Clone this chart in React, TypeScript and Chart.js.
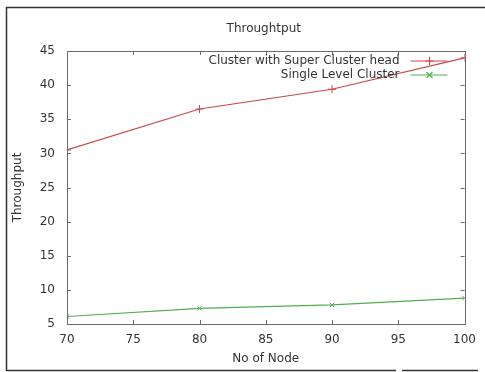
import React, { useEffect, useRef } from "react";
import { Chart, registerables } from "chart.js";

Chart.register(...registerables);

const chartTitle = "Throughtput";
const xTitle = "No of Node";
const yTitle = "Throughput";
const nodes = [70, 80, 90, 100];
const superClusterLabel = "Cluster with Super Cluster head";
const superCluster = [30.5, 36.5, 39.4, 44];
const singleLevelLabel = "Single Level Cluster";
const singleLevel = [6.1, 7.3, 7.8, 8.8];
const xMin = 70;
const xMax = 100;
const xStep = 5;
const yMin = 5;
const yMax = 45;
const yStep = 5;

const FONT = "'DejaVu Sans', Verdana, sans-serif";
const TEXT = "#333";
const RED = "rgb(204,72,72)";
const GREEN = "rgb(80,176,80)";
const AXIS = "#6a6a6a";

const decorPlugin = {
  id: "decor",
  beforeDraw(chart: any) {
    const ctx = chart.ctx;
    ctx.save();
    ctx.fillStyle = "#fff";
    ctx.fillRect(0, 0, chart.width, chart.height);
    ctx.restore();
  },
  afterDatasetsDraw(chart: any) {
    const ctx = chart.ctx;
    const { left, right, top, bottom } = chart.chartArea;
    const xs = chart.scales.x;
    const ys = chart.scales.y;
    ctx.save();
    // title centred over the plot area
    ctx.font = `12px ${FONT}`;
    ctx.fillStyle = TEXT;
    ctx.textAlign = "center";
    ctx.textBaseline = "middle";
    ctx.fillText(chartTitle, (left + right) / 2 - 2, top - 22);

    // plot border
    ctx.strokeStyle = AXIS;
    ctx.lineWidth = 1;
    ctx.strokeRect(Math.round(left) + 0.5, Math.round(top) + 0.5, Math.round(right - left), Math.round(bottom - top));
    // inner ticks (mirrored)
    const tl = 4;
    ctx.beginPath();
    xs.ticks.forEach((t: any) => {
      const px = Math.round(xs.getPixelForValue(t.value)) + 0.5;
      ctx.moveTo(px, bottom);
      ctx.lineTo(px, bottom - tl);
      ctx.moveTo(px, top);
      ctx.lineTo(px, top + tl);
    });
    ys.ticks.forEach((t: any) => {
      const py = Math.round(ys.getPixelForValue(t.value)) + 0.5;
      ctx.moveTo(left, py);
      ctx.lineTo(left + tl, py);
      ctx.moveTo(right, py);
      ctx.lineTo(right - tl, py);
    });
    ctx.stroke();

    // key
    ctx.font = `12px ${FONT}`;
    ctx.textAlign = "right";
    ctx.textBaseline = "middle";
    const items = [
      { label: superClusterLabel, color: RED, style: "cross", y: top + 10 },
      { label: singleLevelLabel, color: GREEN, style: "crossRot", y: top + 24 },
    ];
    items.forEach((it) => {
      ctx.fillStyle = TEXT;
      ctx.fillText(it.label, right - 65, it.y);
      ctx.strokeStyle = it.color;
      ctx.lineWidth = 1.2;
      ctx.beginPath();
      ctx.moveTo(right - 54, it.y);
      ctx.lineTo(right - 17, it.y);
      ctx.stroke();
      const cx = right - 35;
      const r = it.style === "cross" ? 4 : 3;
      ctx.beginPath();
      if (it.style === "cross") {
        ctx.moveTo(cx, it.y - r);
        ctx.lineTo(cx, it.y + r);
        ctx.moveTo(cx - r, it.y);
        ctx.lineTo(cx + r, it.y);
      } else {
        ctx.moveTo(cx - r, it.y - r);
        ctx.lineTo(cx + r, it.y + r);
        ctx.moveTo(cx - r, it.y + r);
        ctx.lineTo(cx + r, it.y - r);
      }
      ctx.stroke();
    });

    // outer screenshot frame
    ctx.strokeStyle = "#333";
    ctx.lineWidth = 1.5;
    ctx.beginPath();
    ctx.moveTo(6, 7.5);
    ctx.lineTo(chart.width, 7.5);
    ctx.moveTo(6.5, 7);
    ctx.lineTo(6.5, 371);
    ctx.moveTo(6, 370.5);
    ctx.lineTo(396, 370.5);
    ctx.moveTo(402, 370.5);
    ctx.lineTo(478, 370.5);
    ctx.stroke();
    ctx.restore();
  },
};

export default function App() {
  const ref = useRef<HTMLCanvasElement | null>(null);
  useEffect(() => {
    if (!ref.current) return;
    const chart = new Chart(ref.current, {
      type: "line",
      data: {
        datasets: [
          {
            label: superClusterLabel,
            data: nodes.map((x, i) => ({ x, y: superCluster[i] })),
            borderColor: RED,
            backgroundColor: RED,
            borderWidth: 1.2,
            pointStyle: "cross",
            pointRadius: 4,
            pointBorderWidth: 1,
            tension: 0,
            fill: false,
          },
          {
            label: singleLevelLabel,
            data: nodes.map((x, i) => ({ x, y: singleLevel[i] })),
            borderColor: GREEN,
            backgroundColor: GREEN,
            borderWidth: 1.2,
            pointStyle: "crossRot",
            pointRadius: 3,
            pointBorderWidth: 1,
            tension: 0,
            fill: false,
          },
        ],
      },
      options: {
        responsive: false,
        animation: false,
        layout: { padding: { left: 0, right: 20, top: 51, bottom: 0 } },
        plugins: {
          legend: { display: false },
          tooltip: { enabled: false },
          title: { display: false },
        },
        scales: {
          x: {
            type: "linear",
            min: xMin,
            max: xMax,
            grid: { display: false, drawTicks: false },
            border: { display: false },
            ticks: {
              stepSize: xStep,
              color: TEXT,
              font: { family: FONT, size: 12 },
              padding: 9,
              maxRotation: 0,
            },
            title: {
              display: true,
              text: xTitle,
              color: TEXT,
              font: { family: FONT, size: 12 },
              padding: { top: 0, bottom: 6 },
            },
            afterFit(s: any) {
              s.height = 48;
            },
          },
          y: {
            type: "linear",
            min: yMin,
            max: yMax,
            grid: { display: false, drawTicks: false },
            border: { display: false },
            ticks: {
              stepSize: yStep,
              color: TEXT,
              font: { family: FONT, size: 12 },
              padding: 12,
            },
            title: {
              display: true,
              text: yTitle,
              color: TEXT,
              font: { family: FONT, size: 12 },
              padding: { top: 11, bottom: 0 },
            },
            afterFit(s: any) {
              s.width = 67;
            },
          },
        },
      },
      plugins: [decorPlugin],
    } as any);
    return () => chart.destroy();
  }, []);
  return (
    <div style={{ position: "absolute", left: 0, top: 0, width: 485, height: 372 }}>
      <canvas ref={ref} width={485} height={372} style={{ display: "block" }} />
    </div>
  );
}
